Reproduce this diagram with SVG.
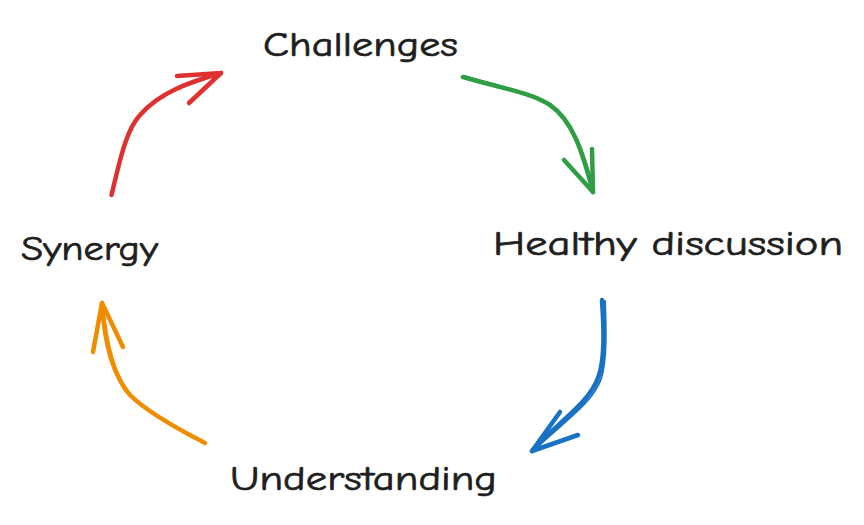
<svg xmlns="http://www.w3.org/2000/svg" width="864" height="525" viewBox="0 0 864 525">
<style>
.lbl{font-family:"Comic Neue","Open Sans","Liberation Sans",sans-serif;font-size:35px;fill:#1e1e1e;stroke:#1e1e1e;stroke-width:0.7}
.arr{fill:none;stroke-width:4.5;stroke-linecap:round;stroke-linejoin:round}
.thin{fill:none;stroke-width:2;stroke-linecap:round;stroke-linejoin:round}
</style>
<rect width="864" height="525" fill="#ffffff"/>
<g id="connectors">
<g id="c-synergy-challenges" stroke="#e03131">
<path class="arr" d="M111.5,195 C120,160 126,130 140,115 C160,92 190,82 221,73"/>
<path class="thin" d="M112.5,193 C121,158 128,128 142,114 C162,92 192,83 220,74"/>
<path class="arr" d="M221,73 L177,76 M221,73 L189,103"/>
</g>
<g id="c-challenges-healthy" stroke="#2f9e44">
<path class="arr" d="M463,77 C500,88 530,92 550,105 C572,120 582,150 593,192"/>
<path class="thin" d="M464,76 C502,87 532,93 552,106 C574,122 584,152 594,190"/>
<path class="arr" d="M593,192 L592,149 M593,192 L564,160"/>
</g>
<g id="c-healthy-understanding" stroke="#1971c2">
<path class="arr" d="M602,300 C604,330 605,360 598,378 C588,404 560,420 532,451"/>
<path class="thin" d="M605,301 C606,330 607,360 601,379 C592,404 563,422 534,450"/>
<path class="arr" d="M532,451 L560,412 M532,451 L578,435"/>
</g>
<g id="c-understanding-synergy" stroke="#f08c00">
<path class="arr" d="M205,443 C170,425 145,410 130,395 C112,375 105,340 102,303"/>
<path class="thin" d="M203,441 C168,423 143,409 128,393 C110,373 103,338 101,305"/>
<path class="arr" d="M102,303 L93,352 M102,303 L123,347"/>
</g>
</g>
<g id="node-challenges"><text class="lbl" x="263" y="56" textLength="195" lengthAdjust="spacingAndGlyphs">Challenges</text></g>
<g id="node-healthy"><text class="lbl" x="493" y="255" textLength="350" lengthAdjust="spacingAndGlyphs">Healthy discussion</text></g>
<g id="node-understanding"><text class="lbl" x="230" y="490" textLength="267" lengthAdjust="spacingAndGlyphs">Understanding</text></g>
<g id="node-synergy"><text class="lbl" x="21" y="260" textLength="137" lengthAdjust="spacingAndGlyphs">Synergy</text></g>
</svg>
